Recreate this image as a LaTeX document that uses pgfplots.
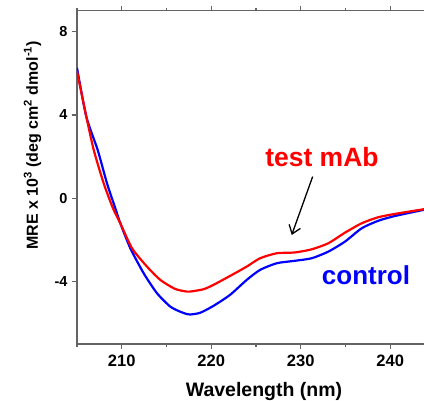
\documentclass[border=0pt]{standalone}
\usepackage{fontspec}
\setmainfont{Liberation Sans}
\usepackage{pgfplots}
\pgfplotsset{compat=1.18}
\usetikzlibrary{arrows.meta}
\definecolor{axgray}{RGB}{100,100,100}

\begin{document}
\begin{tikzpicture}
\begin{axis}[
    name=ax,
    scale only axis,
    width=347pt, height=333.3pt,
    xmin=205, xmax=243.77,
    ymin=-7, ymax=9,
    axis x line=box, axis y line=left,
    axis line style={axgray, line width=1.4pt, -},
    every tick/.style={axgray, line width=1.2pt},
    tick align=outside,
    major tick length=5pt, minor tick length=3pt,
    xtick={210,220,230,240}, minor xtick={205,215,225,235},
    ytick={-4,0,4,8},
    ytick pos=left,
    clip mode=individual,
    /pgf/number format/assume math mode=true,
    xticklabel style={font=\fontsize{16.5}{18}\selectfont\bfseries, yshift=-2pt},
    yticklabel style={font=\fontsize{14.5}{16}\selectfont\bfseries, xshift=-1pt},
    xlabel={Wavelength (nm)},
    xlabel style={font=\fontsize{19.5}{22}\selectfont\bfseries,
        at={(axis description cs:0.539,-0.1575)}, anchor=base},
    ylabel={MRE x 10\textsuperscript{3} (deg cm\textsuperscript{2} dmol\textsuperscript{-1})},
    ylabel style={font=\fontsize{16}{18}\selectfont\bfseries,
        at={(axis description cs:-0.1124,0.596)}, anchor=base},
]

% control
\addplot[blue, line width=2.2pt, smooth, tension=0.4] coordinates {
    (205.0,6.26) (206.04,3.92) (207.31,2.32) (208.35,0.72)
    (209.28,-0.48) (209.84,-1.20) (210.96,-2.40) (212.45,-3.60)
    (213.94,-4.56) (215.42,-5.20) (216.51,-5.44) (217.29,-5.56) (217.63,-5.58)
    (218.74,-5.50) (220.23,-5.17) (222.09,-4.64) (223.96,-3.92) (225.45,-3.44)
    (227.31,-3.12) (229.36,-3.00) (231.22,-2.88) (233.08,-2.56)
    (234.94,-2.08) (236.81,-1.44) (238.66,-1.08) (240.53,-0.85) (243.69,-0.56)
    (244.0,-0.54)
};

% test mAb
\addplot[red, line width=2.2pt, smooth, tension=0.4] coordinates {
    (205.0,6.10) (206.04,3.92) (206.87,2.32) (207.98,0.72)
    (209.02,-0.48) (209.84,-1.20) (211.15,-2.40) (212.82,-3.28) (214.31,-3.92)
    (215.80,-4.32) (216.51,-4.42) (217.29,-4.48) (217.63,-4.48) (219.11,-4.37)
    (220.23,-4.16) (222.09,-3.73) (223.96,-3.28) (225.45,-2.88) (227.31,-2.64)
    (229.36,-2.60) (231.22,-2.45) (233.08,-2.16) (234.94,-1.65)
    (236.81,-1.20) (238.66,-0.91) (240.53,-0.75) (243.69,-0.53) (244.0,-0.51)
};

\node[red, font=\fontsize{26.5}{28}\selectfont\bfseries] at (axis cs:232.37,1.98) {test mAb};
\node[blue, font=\fontsize{26}{28}\selectfont\bfseries] at (axis cs:237.29,-3.68) {control};
\draw[black, line width=1.3pt, -{Straight Barb[length=8pt, width=12pt]}]
    (axis cs:231.33,1.04) -- (axis cs:228.99,-1.76);
\end{axis}
\pgfresetboundingbox
\path[use as bounding box] ([xshift=-77pt,yshift=-56.9pt]ax.south west)
    rectangle ([yshift=10.8pt]ax.north east);
\end{tikzpicture}
\end{document}
